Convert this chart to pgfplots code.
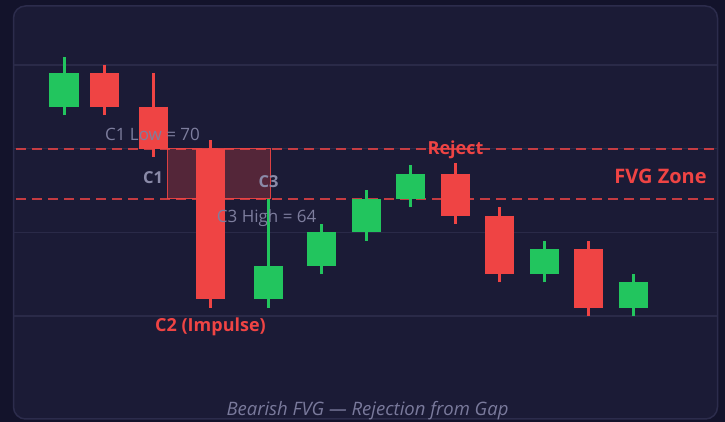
\documentclass[border=0pt]{standalone}
\usepackage{pgfplots}
\pgfplotsset{compat=1.18}
\usepackage{fontspec}
\setmainfont{Open Sans}
\definecolor{outerbg}{HTML}{13132B}
\definecolor{cardbg}{HTML}{1B1B36}
\definecolor{cardborder}{HTML}{2C2C4C}
\definecolor{gridc}{HTML}{2A2A48}
\definecolor{bull}{HTML}{22C55E}
\definecolor{bear}{HTML}{EF4444}
\definecolor{lbl}{HTML}{8A8AA8}
\definecolor{lbllight}{HTML}{7E7E9E}
\definecolor{ttl}{HTML}{7A7A9C}
% \candle{x}{open}{high}{low}{close}{colour}
\newcommand{\candle}[6]{%
  \addplot[#6, line width=3pt, mark=none] coordinates {(#1,#4) (#1,#3)};
  \addplot[#6, line width=29pt, mark=none] coordinates {(#1,#2) (#1,#5)};}
\begin{document}
\begin{tikzpicture}[x=1pt,y=1pt]
\fill[outerbg] (0,0) rectangle (725,422);
\draw[cardborder, fill=cardbg, line width=1.5pt, rounded corners=12pt] (13.5,3) rectangle (717.5,416);
\begin{axis}[at={(14pt,4pt)}, anchor=south west, scale only axis,
  width=703pt, height=412pt,
  xmin=14, xmax=717, ymin=37.80, ymax=87.04,
  axis line style={draw=none}, tick style={draw=none},
  xtick=\empty, ytick={50,60,70,80}, yticklabels={},
  ymajorgrids, grid style={gridc, line width=1.3pt},
  clip=false]
% FVG zone
\addplot[fill=bear, fill opacity=0.27, draw=bear, draw opacity=0.9, line width=1.4pt]
  coordinates {(167.5,64) (270.5,64) (270.5,70) (167.5,70) (167.5,64)};
% dashed levels
\addplot[bear, opacity=0.8, line width=2pt, dash pattern=on 10pt off 6pt]
  coordinates {(16,70) (717,70)};
\addplot[bear, opacity=0.8, line width=2pt, dash pattern=on 10pt off 6pt]
  coordinates {(16,64) (717,64)};
% candles: x, open, high, low, close
\candle{64}{75}{81}{74}{79}{bull}
\candle{104}{79}{80}{74}{75}{bear}
\candle{153}{75}{79}{69}{70}{bear}
\candle{210.5}{70}{71}{51}{52}{bear}
\candle{268.3}{52}{64}{51}{56}{bull}
\candle{321.7}{56}{61}{55}{60}{bull}
\candle{366.3}{60}{65}{59}{64}{bull}
\candle{410.5}{64}{68}{63}{67}{bull}
\candle{455}{67}{68.25}{61}{62}{bear}
\candle{499.5}{62}{63}{54}{55}{bear}
\candle{544}{55}{59}{54}{58}{bull}
\candle{588.3}{58}{59}{50}{51}{bear}
\candle{633}{51}{55}{50}{54}{bull}
\end{axis}
\node[lbllight, inner sep=0pt, font=\fontsize{17}{19}\selectfont] at (152.5,288) {C1 Low = 70};
\node[lbllight, inner sep=0pt, anchor=west, font=\fontsize{17}{19}\selectfont] at (216.7,204) {C3 High = 64};
\node[lbl, inner sep=0pt, font=\fontsize{16.5}{18}\selectfont\bfseries] at (153,244) {C1};
\node[lbl, inner sep=0pt, font=\fontsize{16.5}{18}\selectfont\bfseries] at (268.5,240) {C3};
\node[bear, inner sep=0pt, font=\fontsize{18}{20}\selectfont\bfseries] at (455.5,272) {Reject};
\node[bear, inner sep=0pt, font=\fontsize{20}{22}\selectfont\bfseries] at (660.5,246) {FVG Zone};
\node[bear, inner sep=0pt, font=\fontsize{18}{20}\selectfont\bfseries] at (210.5,95) {C2 (Impulse)};
\node[ttl, inner sep=0pt, font=\fontsize{18.5}{20}\selectfont\itshape] at (367.5,11) {Bearish FVG — Rejection from Gap};
\pgfresetboundingbox
\path (0,0) rectangle (725,422);
\end{tikzpicture}
\end{document}
